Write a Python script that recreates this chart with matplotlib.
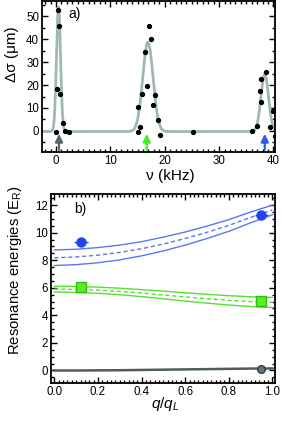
import numpy as np
import matplotlib
matplotlib.use("Agg")
import matplotlib.pyplot as plt
from matplotlib.ticker import MultipleLocator

plt.rcParams['font.family'] = ['Liberation Sans', 'DejaVu Sans']
plt.rcParams['mathtext.fontset'] = 'custom'
plt.rcParams['mathtext.rm'] = 'Liberation Sans'
plt.rcParams['mathtext.it'] = 'Liberation Sans:italic'

# panel a) data points
freq = [0.0, 0.25, 0.43, 0.61, 0.8, 1.2, 1.66, 2.45,
        15.0, 15.0, 15.4, 15.9, 16.3, 16.7, 17.1, 17.5, 17.9, 18.3, 18.7, 19.1,
        25.2,
        36.0, 37.0, 37.45, 37.75, 37.7, 38.55, 39.35, 39.9, 40.2]
dsig = [-0.7, 18.2, 52.9, 45.6, 16.3, 3.5, 0.1, -0.7,
        10.5, -0.6, 1.5, 15.9, 34.4, 19.8, 45.6, 40.1, 11.1, 15.6, 4.7, -2.0,
        -0.7,
        0.1, 2.0, 17.2, 22.6, 12.8, 25.5, 1.9, 8.7, -2.2]

# gaussian fit parameters
fit_base = -0.3
fit_center = [0.46, 16.9, 38.4]
fit_amp = [54.5, 39.0, 25.0]
fit_sigma = [0.37, 0.95, 0.70]

arrow_x = [0.55, 16.7, 38.4]
arrow_col = ['#56666e', '#44ee22', '#3355ee']

# panel b) theory lines at q/qL = 0, 0.1, ..., 1
q = [0.0, 0.1, 0.2, 0.3, 0.4, 0.5, 0.6, 0.7, 0.8, 0.9, 1.0]
blue_hi = [8.75, 8.80, 8.92, 9.10, 9.35, 9.68, 10.05, 10.48, 10.95, 11.50, 12.00]
blue_mid = [8.18, 8.24, 8.37, 8.57, 8.84, 9.18, 9.58, 10.03, 10.53, 11.11, 11.65]
blue_lo = [7.62, 7.68, 7.82, 8.03, 8.32, 8.68, 9.10, 9.58, 10.10, 10.72, 11.30]
green_hi = [6.12, 6.10, 6.05, 5.97, 5.87, 5.76, 5.64, 5.53, 5.43, 5.35, 5.30]
green_mid = [5.91, 5.88, 5.83, 5.74, 5.62, 5.48, 5.34, 5.21, 5.09, 5.00, 4.95]
green_lo = [5.70, 5.67, 5.60, 5.50, 5.36, 5.20, 5.04, 4.89, 4.75, 4.64, 4.57]
gray_line = [0.0, 0.0, 0.01, 0.02, 0.04, 0.06, 0.08, 0.10, 0.12, 0.14, 0.15]

# panel b) measured points
blue_q = [0.122, 0.948]
blue_e = [9.31, 11.32]
blue_qerr = [0.03, 0.03]
green_q = [0.122, 0.948]
green_e = [6.06, 5.03]
gray_q = [0.948]
gray_e = [0.14]

fig = plt.figure(figsize=(2.83, 4.22), dpi=100)
ax1 = fig.add_axes([0.148, 0.640, 0.824, 0.358])
ax2 = fig.add_axes([0.179, 0.092, 0.793, 0.448])

for ax in (ax1, ax2):
    for s in ax.spines.values():
        s.set_linewidth(1.3)
    ax.tick_params(which='both', direction='in', top=True, right=True,
                   labelsize=8.3, pad=2, width=1.0)
    ax.tick_params(which='major', length=4)
    ax.tick_params(which='minor', length=2.2)

# panel a
nu = np.linspace(-2.6, 40.3, 1500)
fit = np.full_like(nu, fit_base)
for c, a, s in zip(fit_center, fit_amp, fit_sigma):
    fit += a * np.exp(-0.5 * ((nu - c) / s) ** 2)
ax1.plot(nu, fit, color='#9db9b5', lw=2.0, zorder=2)
ax1.plot(freq, dsig, 'o', color='black', ms=2.8, zorder=3)
for x, c in zip(arrow_x, arrow_col):
    ax1.annotate('', xy=(x, -1.3), xytext=(x, -8.3),
                 arrowprops=dict(arrowstyle='-|>,head_length=0.45,head_width=0.22',
                                 color=c, lw=1.6, shrinkA=0, shrinkB=0))
ax1.set_xlim(-2.6, 40.3)
ax1.set_ylim(-9.2, 56.8)
ax1.xaxis.set_major_locator(MultipleLocator(10))
ax1.xaxis.set_minor_locator(MultipleLocator(1))
ax1.yaxis.set_major_locator(MultipleLocator(10))
ax1.yaxis.set_minor_locator(MultipleLocator(5))
ax1.set_xlabel('ν (kHz)', fontsize=11)
ax1.set_ylabel('Δσ (μm)', fontsize=11)
ax1.xaxis.set_label_coords(0.55, -0.115)
ax1.yaxis.set_label_coords(-0.10, 0.65)
ax1.text(2.3, 49.5, 'a)', fontsize=10)

# panel b
ax2.plot(q, blue_hi, color='#5a78f2', lw=1.0)
ax2.plot(q, blue_mid, color='#5a78f2', lw=1.0, ls=(0, (3, 2)))
ax2.plot(q, blue_lo, color='#5a78f2', lw=1.0)
ax2.plot(q, green_hi, color='#55e033', lw=1.0)
ax2.plot(q, green_mid, color='#55e033', lw=1.0, ls=(0, (3, 2)))
ax2.plot(q, green_lo, color='#55e033', lw=1.0)
ax2.plot(q, gray_line, color='#4e5c62', lw=1.8)
ax2.errorbar(blue_q, blue_e, xerr=blue_qerr, fmt='o', color='#2244f0',
             ms=6.5, elinewidth=1.0, capsize=0, zorder=4)
ax2.plot(green_q, green_e, 's', color='#55ee22', mec='#33bb11', ms=6.5, zorder=4)
ax2.plot(gray_q, gray_e, 'o', color='#63737a', mec='#303a40', ms=5.5, zorder=4)
ax2.set_xlim(-0.017, 1.012)
ax2.set_ylim(-0.92, 12.8)
ax2.xaxis.set_major_locator(MultipleLocator(0.2))
ax2.xaxis.set_minor_locator(MultipleLocator(0.02))
ax2.yaxis.set_major_locator(MultipleLocator(2))
ax2.yaxis.set_minor_locator(MultipleLocator(0.5))
ax2.xaxis.set_major_formatter(plt.FuncFormatter(lambda v, p: f'{v:.1f}'))
ax2.set_xlabel('$q/q_L$', fontsize=11)
ax2.set_ylabel('Resonance energies (E$_\\mathrm{R}$)', fontsize=10.7)
ax2.xaxis.set_label_coords(0.51, -0.06)
ax2.yaxis.set_label_coords(-0.12, 0.6)
ax2.text(0.09, 11.45, 'b)', fontsize=10)

fig.savefig('out.png', dpi=100)
